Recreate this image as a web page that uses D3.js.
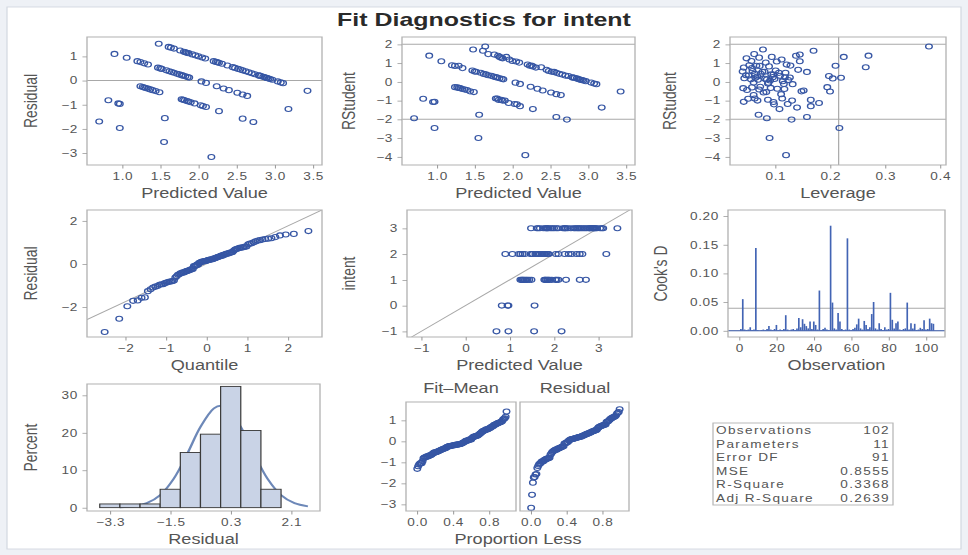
<!DOCTYPE html>
<html lang="en">
<head>
<meta charset="utf-8">
<title>Fit Diagnostics for intent</title>
<script src="https://d3js.org/d3.v7.min.js"></script>
<style>
body{margin:0;background:#eef1f6;}
svg{display:block;}
svg text{font-family:"Liberation Sans",Arial,sans-serif;}
</style>
</head>
<body>
<div id="chart"></div>
<script>
// predicted values, grouped by the observed intent level, with the leverage of each observation
var fit3 = [1.48,1.61,1.64,1.68,1.76,1.81,1.83,1.85,1.87,1.92,
            1.96,2.00,2.05,2.09,2.20,2.23,2.25,2.27,2.31,2.38,
            2.45,2.48,2.52,2.55,2.58,2.62,2.66,2.70,2.74,2.79,
            2.80,2.82,2.85,2.87,2.89,2.90,2.92,2.94,2.97,3.04,
            3.08,3.11,3.43]
var lev3 = [0.078,0.17,0.38,0.062,0.145,0.138,0.094,0.071,0.048,0.225,
            0.112,0.057,0.103,0.083,0.121,0.066,0.128,0.089,0.043,0.265,
            0.142,0.059,0.081,0.158,0.107,0.074,0.097,0.052,0.198,0.118,
            0.064,0.22,0.205,0.099,0.085,0.069,0.124,0.091,0.114,0.061,
            0.087,0.132,0.20]
var fit2 = [0.90,1.06,1.20,1.24,1.29,1.34,1.47,1.50,1.52,1.58,
            1.62,1.65,1.68,1.72,1.75,1.78,1.80,1.83,1.86,1.88,
            2.04,2.10,2.24,2.33,2.40,2.51,2.58,2.64,3.18]
var lev2 = [0.27,0.145,0.053,0.072,0.21,0.058,0.101,0.041,0.077,0.119,
            0.063,0.093,0.047,0.109,0.068,0.096,0.127,0.044,0.082,0.056,
            0.088,0.116,0.073,0.104,0.152,0.079,0.111,0.061,0.14]
var fit1 = [1.24,1.27,1.29,1.31,1.34,1.37,1.40,1.44,1.49,1.78,
            1.80,1.82,1.85,1.87,1.90,1.95,2.03,2.06,2.10,2.27,
            2.58,2.72]
var lev1 = [0.195,0.058,0.092,0.042,0.117,0.071,0.049,0.148,0.084,0.113,
            0.063,0.165,0.087,0.131,0.068,0.18,0.123,0.098,0.165,0.108,
            0.158,0.13]
var fit0 = [0.82,0.95,0.97,1.56]
var lev0 = [0.051,0.097,0.043,0.07]
var fitM1 = [0.70,0.97,1.55,2.17]
var levM1 = [0.085,0.217,0.09,0.12]

// Cook's D by observation number (null = observation not used)
var cooksD = [0.003,0.055,0.002,0.001,0.002,0.006,0.001,0.002,0.144,0.001,
              null, 0.001,0.002,0.001,0.003,0.008,0.002,0.001,0.003,0.010,
              0.001,0.002,0.001,0.003,0.027,0.002,null, 0.002,0.003,0.001,
              0.004,0.022,0.006,0.020,0.012,0.008,0.004,0.016,0.003,0.016,
              0.010,0.002,0.070,0.001,0.003,0.005,0.002,0.001,0.183,0.049,
              0.004,0.002,0.031,0.016,0.003,0.001,0.002,0.161,0.002,0.001,
              0.003,0.005,0.011,0.021,0.004,0.002,0.017,0.010,0.003,0.006,
              0.029,0.050,0.004,0.002,0.013,0.003,0.001,0.006,0.002,0.003,
              0.066,0.019,0.004,0.013,0.016,0.002,0.001,0.003,0.004,0.049,
              0.002,0.013,0.004,0.012,0.001,0.002,0.005,0.003,0.018,0.002,
              0.003,0.021,0.013,0.012]

// histogram bins and the normal density overlay (percent)
var binEdges = [-3.6,-3.0,-2.4,-1.8,-1.2,-0.6,0,0.6,1.2,1.8]
var normX   = [-3.0,-2.6,-2.2,-1.8,-1.4,-1.0,-0.6,-0.2,0.0,0.2,0.6,1.0,1.4,1.8,2.2,2.6]
var normPct = [0.08,0.35,1.19,3.36,7.67,14.26,21.56,26.5,27.2,26.5,21.56,14.26,7.67,3.36,1.19,0.35]

var statLabels = ["Observations","Parameters","Error DF","MSE","R-Square","Adj R-Square"]
var statValues = ["102","11","91","0.8555","0.3368","0.2639"]
var nParams = 11
var levCut = 2*nParams/102

// ---- build observations ----
var obs = []
function addGroup(level, fits, levs){
    fits.forEach(function(f,i){
        obs.push({intent:level, pred:f, lev:levs[i], res:level-f})
    })
}
addGroup(3, fit3, lev3)
addGroup(2, fit2, lev2)
addGroup(1, fit1, lev1)
addGroup(0, fit0, lev0)
addGroup(-1, fitM1, levM1)

var n = obs.length
var sse = d3.sum(obs, function(d){return d.res*d.res})
obs.forEach(function(d){
    var s2 = (sse - d.res*d.res/(1-d.lev))/(n-nParams-1)
    d.rstud = d.res/Math.sqrt(s2*(1-d.lev))
})

// inverse normal cdf (Acklam)
function qnorm(p){
    var a=[-39.69683028665376,220.9460984245205,-275.9285104469687,138.3577518672690,-30.66479806614716,2.506628277459239],
        b=[-54.47609879822406,161.5858368580409,-155.6989798598866,66.80131188771972,-13.28068155288572],
        c=[-0.007784894002430293,-0.3223964580411365,-2.400758277161838,-2.549732539343734,4.374664141464968,2.938163982698783],
        dd=[0.007784695709041462,0.3224671290700398,2.445134137142996,3.754408661907416]
    var q,r
    if(p<0.02425){
        q=Math.sqrt(-2*Math.log(p))
        return (((((c[0]*q+c[1])*q+c[2])*q+c[3])*q+c[4])*q+c[5])/((((dd[0]*q+dd[1])*q+dd[2])*q+dd[3])*q+1)
    }
    if(p>1-0.02425){
        q=Math.sqrt(-2*Math.log(1-p))
        return -(((((c[0]*q+c[1])*q+c[2])*q+c[3])*q+c[4])*q+c[5])/((((dd[0]*q+dd[1])*q+dd[2])*q+dd[3])*q+1)
    }
    q=p-0.5; r=q*q
    return (((((a[0]*r+a[1])*r+a[2])*r+a[3])*r+a[4])*r+a[5])*q/(((((b[0]*r+b[1])*r+b[2])*r+b[3])*r+b[4])*r+1)
}

// ---- svg: drawn on a 640x480 grid, stretched to the window like the original ----
var W = 968, H = 555, VW = 640, VH = 480
var SX = W/VW, SY = H/VH
var svg = d3.select("#chart").append("svg")
    .attr("width",W).attr("height",H)
    .attr("viewBox","0 0 "+VW+" "+VH)
    .attr("preserveAspectRatio","none")

var mark = "#3656a4", grid = "#a8a8a8", ink = "#555"

svg.append("rect").attr("x",0).attr("y",0).attr("width",VW).attr("height",VH).attr("fill","#eef1f6")
svg.append("rect").attr("x",7/SX).attr("y",7/SY).attr("width",(961-7)/SX).attr("height",(549-7)/SY)
    .attr("fill","#fff").attr("stroke","#d3d8e0").attr("stroke-width",0.8)

svg.append("text").attr("x",484/SX).attr("y",26/SY).attr("text-anchor","middle")
    .style("font-size","16.5px").style("font-weight","bold").attr("fill","#2a2a2a")
    .text("Fit Diagnostics for intent")

var clipId = 0
function panel(box, xDom, yDom){
    var x = d3.scaleLinear().domain(xDom).range([box.l/SX, box.r/SX])
    var y = d3.scaleLinear().domain(yDom).range([box.b/SY, box.t/SY])
    var g = svg.append("g")
    var id = "clip"+(clipId++)
    g.append("clipPath").attr("id",id).append("rect")
        .attr("x",box.l/SX).attr("y",box.t/SY).attr("width",(box.r-box.l)/SX).attr("height",(box.b-box.t)/SY)
    var inner = g.append("g").attr("clip-path","url(#"+id+")")
    return {box:box, x:x, y:y, g:g, inner:inner}
}

function styleAxis(ax){
    ax.attr("font-family",null).attr("font-size",null)
    ax.select(".domain").remove()
    ax.selectAll("line").attr("stroke","#9c9c9c").attr("stroke-width",0.7)
    ax.selectAll("text").attr("fill",ink).style("font-size","9px").style("letter-spacing","0.4px")
}

function frame(P){
    P.g.append("rect").attr("x",P.box.l/SX).attr("y",P.box.t/SY)
        .attr("width",(P.box.r-P.box.l)/SX).attr("height",(P.box.b-P.box.t)/SY)
        .attr("fill","none").attr("stroke","#b4b4b4").attr("stroke-width",0.9)
}

function axes(P, o){
    if(o.xTicks){
        var ax = P.g.append("g").attr("transform","translate(0,"+(P.box.b/SY)+")")
            .call(d3.axisBottom(P.x).tickValues(o.xTicks).tickFormat(o.xFmt).tickSize(3).tickPadding(3.5))
        styleAxis(ax)
    }
    if(o.yTicks){
        var ay = P.g.append("g").attr("transform","translate("+(P.box.l/SX)+",0)")
            .call(d3.axisLeft(P.y).tickValues(o.yTicks).tickFormat(o.yFmt).tickSize(3).tickPadding(3))
        styleAxis(ay)
    }
    if(o.xLabel){
        P.g.append("text").attr("x",(o.xLabelX || (P.box.l+P.box.r)/2)/SX).attr("y",(P.box.b+33)/SY)
            .attr("text-anchor","middle").attr("fill",ink).style("font-size","12px")
            .text(o.xLabel)
    }
    if(o.yLabel){
        var cy = (P.box.t+P.box.b)/2/SY
        P.g.append("text").attr("transform","translate("+(o.yLabelX/SX)+","+cy+") rotate(-90)")
            .attr("text-anchor","middle").attr("fill",ink).style("font-size","12px")
            .text(o.yLabel)
    }
}

function hline(P, v){
    P.inner.append("line").attr("x1",P.x.range()[0]).attr("x2",P.x.range()[1])
        .attr("y1",P.y(v)).attr("y2",P.y(v)).attr("stroke",grid).attr("stroke-width",0.8)
}
function vline(P, v){
    P.inner.append("line").attr("y1",P.y.range()[0]).attr("y2",P.y.range()[1])
        .attr("x1",P.x(v)).attr("x2",P.x(v)).attr("stroke",grid).attr("stroke-width",0.8)
}
function dots(P, data, fx, fy){
    P.g.append("g").selectAll("circle").data(data).enter().append("circle")
        .attr("cx",function(d,i){return P.x(fx(d,i))})
        .attr("cy",function(d,i){return P.y(fy(d,i))})
        .attr("r",2.2).attr("fill","none").attr("stroke",mark).attr("stroke-width",0.9)
}

var f1 = d3.format(".1f"), fd = d3.format("d"), f2 = d3.format(".2f")

// 1. residual vs predicted
var p1 = panel({l:87,r:322,t:37,b:165}, [0.54,3.62], [-3.5,1.8])
hline(p1, 0)
dots(p1, obs, function(d){return d.pred}, function(d){return d.res})
frame(p1)
axes(p1, {xTicks:[1,1.5,2,2.5,3,3.5], xFmt:f1, yTicks:[-3,-2,-1,0,1], yFmt:fd,
          xLabel:"Predicted Value", yLabel:"Residual", yLabelX:37})

// 2. rstudent vs predicted
var p2 = panel({l:402,r:635,t:37,b:165}, [0.54,3.62], [-4.44,2.39])
hline(p2, 2); hline(p2, -2)
dots(p2, obs, function(d){return d.pred}, function(d){return d.rstud})
frame(p2)
axes(p2, {xTicks:[1,1.5,2,2.5,3,3.5], xFmt:f1, yTicks:[-4,-3,-2,-1,0,1,2], yFmt:fd,
          xLabel:"Predicted Value", yLabel:"RStudent", yLabelX:355})

// 3. rstudent vs leverage
var p3 = panel({l:730,r:946,t:37,b:165}, [0.018,0.411], [-4.44,2.39])
hline(p3, 2); hline(p3, -2); vline(p3, levCut)
dots(p3, obs, function(d){return d.lev}, function(d){return d.rstud})
frame(p3)
axes(p3, {xTicks:[0.1,0.2,0.3,0.4], xFmt:f1, yTicks:[-4,-3,-2,-1,0,1,2], yFmt:fd,
          xLabel:"Leverage", yLabel:"RStudent", yLabelX:676})

// 4. normal quantile plot of residuals
var resSorted = obs.map(function(d){return d.res}).sort(d3.ascending)
var qq = resSorted.map(function(r,i){return {q:qnorm((i+1-0.375)/(n+0.25)), r:r}})
var mu = d3.mean(resSorted), sd = d3.deviation(resSorted)
var p4 = panel({l:87,r:322,t:210,b:337}, [-2.94,2.84], [-3.4,2.5])
p4.inner.append("line").attr("x1",p4.x(-2.94)).attr("y1",p4.y(mu+sd*-2.94))
    .attr("x2",p4.x(2.84)).attr("y2",p4.y(mu+sd*2.84)).attr("stroke",grid).attr("stroke-width",0.8)
dots(p4, qq, function(d){return d.q}, function(d){return d.r})
frame(p4)
axes(p4, {xTicks:[-2,-1,0,1,2], xFmt:fd, yTicks:[-2,0,2], yFmt:fd,
          xLabel:"Quantile", yLabel:"Residual", yLabelX:37})

// 5. observed vs predicted
var p5 = panel({l:407,r:632,t:210,b:337}, [-1.32,3.76], [-1.22,3.71])
p5.inner.append("line").attr("x1",p5.x(-1.22)).attr("y1",p5.y(-1.22))
    .attr("x2",p5.x(3.71)).attr("y2",p5.y(3.71)).attr("stroke",grid).attr("stroke-width",0.8)
dots(p5, obs, function(d){return d.pred}, function(d){return d.intent})
frame(p5)
axes(p5, {xTicks:[-1,0,1,2,3], xFmt:fd, yTicks:[-1,0,1,2,3], yFmt:fd,
          xLabel:"Predicted Value", yLabel:"intent", yLabelX:355})

// 6. Cook's D
var p6 = panel({l:728,r:945,t:210,b:337}, [-5.9,110.2], [-0.011,0.2104])
hline(p6, 4/n)
var cd = cooksD.map(function(v,i){return {obs:i+1, d:v}}).filter(function(d){return d.d!==null})
p6.g.append("g").selectAll("line").data(cd).enter().append("line")
    .attr("x1",function(d){return p6.x(d.obs)}).attr("x2",function(d){return p6.x(d.obs)})
    .attr("y1",p6.y(0)).attr("y2",function(d){return p6.y(d.d)})
    .attr("stroke","#4264b4").attr("stroke-width",1.1)
p6.inner.append("line").attr("x1",p6.x.range()[0]).attr("x2",p6.x.range()[1])
    .attr("y1",p6.y(0)).attr("y2",p6.y(0)).attr("stroke","#2f4f9f").attr("stroke-width",0.9)
frame(p6)
axes(p6, {xTicks:[0,20,40,60,80,100], xFmt:fd, yTicks:[0,0.05,0.1,0.15,0.2], yFmt:f2,
          xLabel:"Observation", yLabel:"Cook's D", yLabelX:667})

// 7. residual histogram
var bins = d3.bin().domain([binEdges[0], binEdges[binEdges.length-1]]).thresholds(binEdges.slice(1,-1))(resSorted)
var p7 = panel({l:87,r:320,t:384,b:511}, [-3.98,2.96], [-0.9,33.0])
p7.g.append("g").selectAll("rect").data(bins).enter().append("rect")
    .attr("x",function(d){return p7.x(d.x0)})
    .attr("width",function(d){return p7.x(d.x1)-p7.x(d.x0)})
    .attr("y",function(d){return p7.y(d.length/n*100)})
    .attr("height",function(d){return p7.y(0)-p7.y(d.length/n*100)})
    .attr("fill","#c9d3e6").attr("stroke","#3a3a3a").attr("stroke-width",0.8)
p7.inner.append("path").datum(normX.map(function(v,i){return [v,normPct[i]]}))
    .attr("d",d3.line().x(function(d){return p7.x(d[0])}).y(function(d){return p7.y(d[1])}).curve(d3.curveCatmullRom))
    .attr("fill","none").attr("stroke","#6d88b8").attr("stroke-width",1.6)
frame(p7)
axes(p7, {xTicks:[-3.3,-1.5,0.3,2.1], xFmt:f1, yTicks:[0,10,20,30], yFmt:fd,
          xLabel:"Residual", yLabel:"Percent", yLabelX:37})

// 8. residual-fit spread plot
var meanPred = d3.mean(obs, function(d){return d.pred})
var fitSorted = obs.map(function(d){return d.pred-meanPred}).sort(d3.ascending)
var p8a = panel({l:406,r:516,t:402,b:511}, [-0.12,1.10], [-3.32,1.87])
var p8b = panel({l:520,r:629,t:402,b:511}, [-0.12,1.10], [-3.32,1.87])
dots(p8a, fitSorted, function(d,i){return (i+0.5)/n}, function(d){return d})
dots(p8b, resSorted, function(d,i){return (i+0.5)/n}, function(d){return d})
frame(p8a); frame(p8b)
axes(p8a, {xTicks:[0,0.4,0.8], xFmt:f1, yTicks:[-3,-2,-1,0,1], yFmt:fd})
axes(p8b, {xTicks:[0,0.4,0.8], xFmt:f1, xLabel:"Proportion Less", xLabelX:518})
p8a.g.append("text").attr("x",461/SX).attr("y",393/SY).attr("text-anchor","middle")
    .attr("fill",ink).style("font-size","12px").text("Fit–Mean")
p8b.g.append("text").attr("x",575/SX).attr("y",393/SY).attr("text-anchor","middle")
    .attr("fill",ink).style("font-size","12px").text("Residual")

// 9. fit statistics table
var tb = svg.append("g")
tb.append("rect").attr("x",713/SX).attr("y",423/SY).attr("width",(893-713)/SX).attr("height",(505-423)/SY)
    .attr("fill","#fff").attr("stroke","#b4b4b4").attr("stroke-width",0.8)
statLabels.forEach(function(s,i){
    var yy = (434 + i*13.6)/SY
    tb.append("text").attr("x",716/SX).attr("y",yy).attr("fill",ink)
        .style("font-size","9px").style("letter-spacing","0.9px").text(s)
    tb.append("text").attr("x",890/SX).attr("y",yy).attr("text-anchor","end").attr("fill",ink)
        .style("font-size","9px").style("letter-spacing","0.9px").text(statValues[i])
})
</script>
</body>
</html>
